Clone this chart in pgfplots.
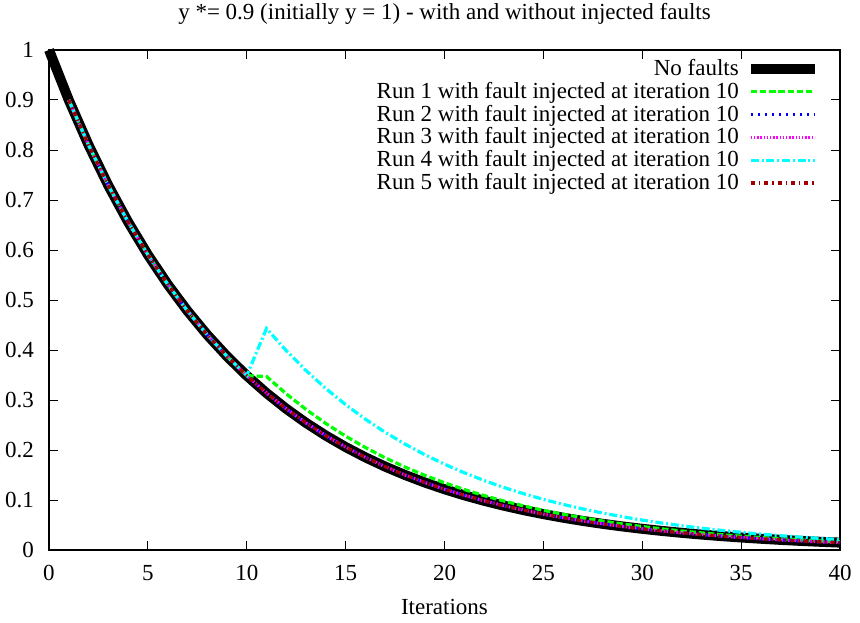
\documentclass[border=0pt]{standalone}
\usepackage{fontspec}
\setmainfont{Liberation Serif}
\usepackage{pgfplots}
\pgfplotsset{compat=1.18}
\definecolor{gpgreen}{HTML}{00FF00}
\definecolor{gpblue}{HTML}{0000FF}
\definecolor{gpmag}{HTML}{FF00FF}
\definecolor{gpcyan}{HTML}{00FFFF}
\definecolor{gpred}{HTML}{A00000}

% y = 0.9^n, n = 0..40
\pgfplotstableread{
x y
0 1
1 0.9
2 0.81
3 0.729
4 0.6561
5 0.59049
6 0.531441
7 0.478297
8 0.430467
9 0.387420
10 0.348678
11 0.313811
12 0.282430
13 0.254187
14 0.228768
15 0.205891
16 0.185302
17 0.166772
18 0.150095
19 0.135085
20 0.121577
21 0.109419
22 0.098477
23 0.088629
24 0.079766
25 0.071790
26 0.064611
27 0.058150
28 0.052335
29 0.047101
30 0.042391
31 0.038152
32 0.034337
33 0.030903
34 0.027813
35 0.025032
36 0.022528
37 0.020276
38 0.018248
39 0.016423
40 0.014781
}\nofault

% runs 2, 3, 5: no visible effect of the fault
\pgfplotstableread{
x y
1 0.9
2 0.81
3 0.729
4 0.6561
5 0.59049
6 0.531441
7 0.478297
8 0.430467
9 0.387420
10 0.348678
11 0.313811
12 0.282430
13 0.254187
14 0.228768
15 0.205891
16 0.185302
17 0.166772
18 0.150095
19 0.135085
20 0.121577
21 0.109419
22 0.098477
23 0.088629
24 0.079766
25 0.071790
26 0.064611
27 0.058150
28 0.052335
29 0.047101
30 0.042391
31 0.038152
32 0.034337
33 0.030903
34 0.027813
35 0.025032
36 0.022528
37 0.020276
38 0.018248
39 0.016423
40 0.014781
}\quiet

\pgfplotstableread{
x y
1 0.9
2 0.81
3 0.729
4 0.6561
5 0.59049
6 0.531441
7 0.478297
8 0.430467
9 0.387420
10 0.348678
11 0.347
12 0.3123
13 0.2811
14 0.2530
15 0.2277
16 0.2049
17 0.1844
18 0.1660
19 0.1494
20 0.1344
21 0.1210
22 0.1089
23 0.0980
24 0.0882
25 0.0794
26 0.0714
27 0.0643
28 0.0579
29 0.0521
30 0.0469
31 0.0422
32 0.0380
33 0.0342
34 0.0307
35 0.0277
36 0.0249
37 0.0224
38 0.0202
39 0.0181
40 0.0163
}\runone

\pgfplotstableread{
x y
1 0.9
2 0.81
3 0.729
4 0.6561
5 0.59049
6 0.531441
7 0.478297
8 0.430467
9 0.387420
10 0.348678
11 0.443
12 0.3987
13 0.3588
14 0.3230
15 0.2907
16 0.2616
17 0.2354
18 0.2119
19 0.1907
20 0.1716
21 0.1545
22 0.1390
23 0.1251
24 0.1126
25 0.1013
26 0.0912
27 0.0821
28 0.0739
29 0.0665
30 0.0598
31 0.0539
32 0.0485
33 0.0436
34 0.0393
35 0.0353
36 0.0318
37 0.0286
38 0.0258
39 0.0232
40 0.0209
}\runfour

\begin{document}
\begin{tikzpicture}
\useasboundingbox (-24.5pt,-36pt) rectangle (405.5pt,275pt);
\begin{axis}[
  at={(0,0)}, anchor=south west,
  scale only axis, width=395.5pt, height=250pt,
  xmin=0, xmax=40, ymin=0, ymax=1,
  xtick={0,5,...,40}, ytick={0,0.1,...,1.0},
  yticklabels={0,0.1,0.2,0.3,0.4,0.5,0.6,0.7,0.8,0.9,1},
  font=\fontsize{11.5}{13.8}\selectfont,
  /pgf/number format/assume math mode=true,
  tick align=inside, major tick length=4.3pt,
  tick style={black, line width=0.5pt},
  axis line style={line width=0.6pt},
  xticklabel style={yshift=-4pt},
  yticklabel style={xshift=-4pt},
  title={y *= 0.9 (initially y = 1) - with and without injected faults},
  title style={at={(0.5,1)}, anchor=base, yshift=9pt},
  xlabel={Iterations},
  xlabel style={at={(0.5,0)}, anchor=base, yshift=-32pt},
  clip=false,
  legend plot pos=right,
  legend cell align=right,
  legend image code/.code={\draw[#1,line cap=butt] (0pt,0pt) -- (32pt,0pt);},
  legend style={at={(0.975,0.99)}, anchor=north east, draw=none, fill=none,
    inner sep=0pt, row sep=-2.2pt,
    nodes={inner sep=2pt},
    /tikz/every odd column/.append style={column sep=1.5pt}},
]
\addplot[black, line width=5pt, line join=round] table {\nofault};
\addlegendentry{No faults}
\addplot[gpgreen, line width=1.6pt, dash pattern=on 3.2pt off 1.4pt] table {\runone};
\addlegendentry{Run 1 with fault injected at iteration 10}
\addplot[gpblue, line width=1.6pt, dash pattern=on 1.3pt off 2.2pt] table {\quiet};
\addlegendentry{Run 2 with fault injected at iteration 10}
\addplot[gpmag, line width=1.6pt, dash pattern=on 0.7pt off 0.9pt] table {\quiet};
\addlegendentry{Run 3 with fault injected at iteration 10}
\addplot[gpcyan, line width=1.6pt, dash pattern=on 4pt off 1.4pt on 1pt off 1.4pt] table {\runfour};
\addlegendentry{Run 4 with fault injected at iteration 10}
\addplot[gpred, line width=1.6pt, dash pattern=on 2pt off 2pt on 0.7pt off 2pt] table {\quiet};
\addlegendentry{Run 5 with fault injected at iteration 10}
\end{axis}
\end{tikzpicture}
\end{document}
